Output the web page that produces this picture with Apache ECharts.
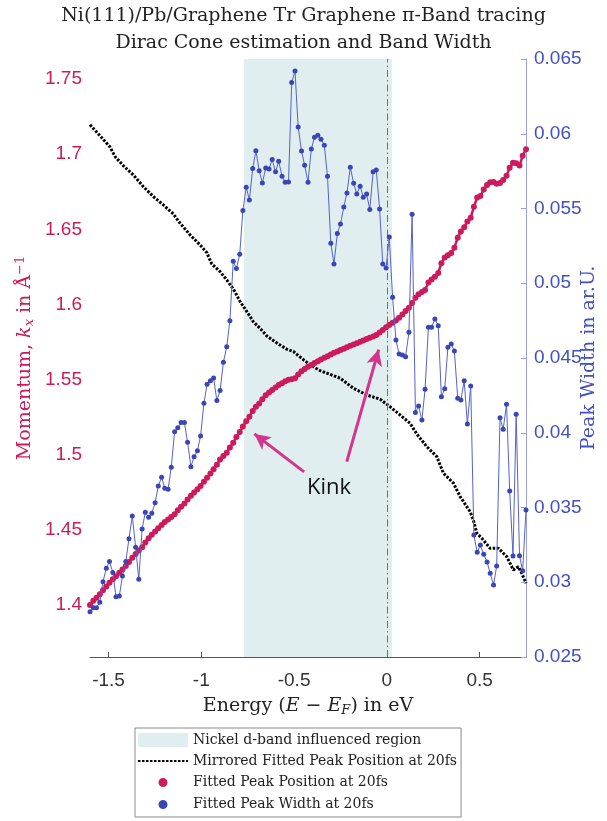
<!DOCTYPE html>
<html>
<head>
<meta charset="utf-8">
<title>Graphene π-band tracing</title>
<script src="https://cdn.jsdelivr.net/npm/echarts@6/dist/echarts.min.js"></script>
<style>
  html, body { margin: 0; padding: 0; background: #fff; }
  #chart { width: 607px; height: 821px; }
</style>
</head>
<body>
<div id="chart"></div>
<script>
// Energy grid (E - E_F, eV) shared by the fitted peak position and width
const energy = [
  -1.600, -1.582, -1.565, -1.547, -1.530, -1.512, -1.495, -1.477, -1.460, -1.442,
  -1.425, -1.407, -1.390, -1.372, -1.354, -1.337, -1.319, -1.302, -1.284, -1.267,
  -1.249, -1.232, -1.214, -1.197, -1.179, -1.162, -1.144, -1.127, -1.109, -1.091,
  -1.074, -1.056, -1.039, -1.021, -1.004, -0.986, -0.969, -0.951, -0.934, -0.916,
  -0.899, -0.881, -0.863, -0.846, -0.828, -0.811, -0.793, -0.776, -0.758, -0.741,
  -0.723, -0.706, -0.688, -0.671, -0.653, -0.635, -0.618, -0.600, -0.583, -0.565,
  -0.548, -0.530, -0.513, -0.495, -0.478, -0.460, -0.443, -0.425, -0.407, -0.390,
  -0.372, -0.355, -0.337, -0.320, -0.302, -0.285, -0.267, -0.250, -0.232, -0.215,
  -0.197, -0.179, -0.162, -0.144, -0.127, -0.109, -0.092, -0.074, -0.057, -0.039,
  -0.022, -0.004, 0.013, 0.031, 0.049, 0.066, 0.084, 0.101, 0.119, 0.136,
  0.154, 0.171, 0.189, 0.206, 0.224, 0.241, 0.259, 0.277, 0.294, 0.312,
  0.329, 0.347, 0.364, 0.382, 0.399, 0.417, 0.434, 0.452, 0.469, 0.487,
  0.504, 0.522, 0.540, 0.557, 0.575, 0.592, 0.610, 0.627, 0.645, 0.662,
  0.680, 0.697, 0.715, 0.732, 0.750
];

// Fitted peak position k_x (1/Å) at 20 fs
const peakPosition = [
  1.4000, 1.4029, 1.4049, 1.4072, 1.4098, 1.4124, 1.4148, 1.4172, 1.4192, 1.4215,
  1.4237, 1.4260, 1.4287, 1.4314, 1.4340, 1.4363, 1.4384, 1.4416, 1.4444, 1.4467,
  1.4489, 1.4511, 1.4533, 1.4552, 1.4569, 1.4586, 1.4604, 1.4631, 1.4654, 1.4676,
  1.4702, 1.4727, 1.4749, 1.4771, 1.4792, 1.4820, 1.4847, 1.4876, 1.4903, 1.4934,
  1.4968, 1.4992, 1.5014, 1.5049, 1.5080, 1.5118, 1.5151, 1.5188, 1.5223, 1.5253,
  1.5292, 1.5320, 1.5342, 1.5369, 1.5396, 1.5415, 1.5431, 1.5447, 1.5464, 1.5476,
  1.5490, 1.5499, 1.5502, 1.5510, 1.5535, 1.5556, 1.5570, 1.5585, 1.5597, 1.5610,
  1.5622, 1.5634, 1.5645, 1.5656, 1.5668, 1.5679, 1.5688, 1.5697, 1.5706, 1.5715,
  1.5725, 1.5734, 1.5743, 1.5752, 1.5761, 1.5770, 1.5779, 1.5787, 1.5797, 1.5813,
  1.5830, 1.5848, 1.5864, 1.5878, 1.5894, 1.5912, 1.5934, 1.5956, 1.5978, 1.6010,
  1.6045, 1.6068, 1.6083, 1.6097, 1.6146, 1.6166, 1.6185, 1.6210, 1.6275, 1.6313,
  1.6328, 1.6343, 1.6378, 1.6445, 1.6486, 1.6514, 1.6553, 1.6578, 1.6650, 1.6712,
  1.6722, 1.6765, 1.6795, 1.6814, 1.6816, 1.6803, 1.6808, 1.6828, 1.6857, 1.6910,
  1.6943, 1.6940, 1.6925, 1.6990, 1.7034
];

// Fitted peak width (arb. units) at 20 fs
const peakWidth = [
  0.02803, 0.02830, 0.02830, 0.02866, 0.03004, 0.03093, 0.03138, 0.03066, 0.02903, 0.02908,
  0.03042, 0.03138, 0.03291, 0.03443, 0.03234, 0.03020, 0.03356, 0.03468, 0.03434, 0.03461,
  0.03532, 0.03644, 0.03702, 0.03628, 0.03622, 0.03769, 0.04007, 0.04034, 0.04068, 0.04068,
  0.03936, 0.03773, 0.03840, 0.03880, 0.03978, 0.04197, 0.04324, 0.04348, 0.04366, 0.04215,
  0.04282, 0.04472, 0.04576, 0.04750, 0.05147, 0.05098, 0.05194, 0.05486, 0.05642, 0.05557,
  0.05767, 0.05887, 0.05753, 0.05671, 0.05771, 0.05765, 0.05827, 0.05745, 0.05816, 0.05716,
  0.05676, 0.05678, 0.06342, 0.06420, 0.06045, 0.05885, 0.05789, 0.05676, 0.05898, 0.05977,
  0.05990, 0.05963, 0.05923, 0.05716, 0.05268, 0.05129, 0.05332, 0.05397, 0.05510, 0.05604,
  0.05776, 0.05669, 0.05597, 0.05649, 0.05575, 0.05597, 0.05493, 0.05745, 0.05758, 0.05497,
  0.05129, 0.05102, 0.05310, 0.04906, 0.04621, 0.04527, 0.04520, 0.04509, 0.04672, 0.05461,
  0.04135, 0.04179, 0.04085, 0.04291, 0.04705, 0.04705, 0.04761, 0.04716, 0.04241, 0.04295,
  0.04572, 0.04594, 0.04547, 0.04231, 0.04219, 0.04348, 0.04059, 0.04313, 0.03316, 0.03200,
  0.03249, 0.03187, 0.03136, 0.03060, 0.02982, 0.03109, 0.04101, 0.04023, 0.04191, 0.03611,
  0.03176, 0.04124, 0.03178, 0.03077, 0.03483
];

// Mirrored fitted peak position (energy, k_x)
const mirroredEnergy = [
  -1.600, -1.546, -1.492, -1.465, -1.420, -1.367, -1.313, -1.259, -1.205, -1.151,
  -1.115, -1.061, -1.007, -0.971, -0.944, -0.899, -0.863, -0.827, -0.791, -0.755,
  -0.720, -0.684, -0.647, -0.612, -0.576, -0.540, -0.504, -0.468, -0.414, -0.360,
  -0.252, -0.181, -0.108, -0.037, 0.017, 0.071, 0.125, 0.161, 0.215, 0.269,
  0.305, 0.359, 0.395, 0.449, 0.466, 0.485, 0.512, 0.556, 0.601, 0.646,
  0.682, 0.709, 0.727, 0.750
];
const mirroredPosition = [
  1.7196, 1.7123, 1.7048, 1.6985, 1.6923, 1.6863, 1.6785, 1.6719, 1.6663, 1.6603,
  1.6542, 1.6464, 1.6397, 1.6346, 1.6271, 1.6219, 1.6164, 1.6102, 1.6020, 1.5953,
  1.5886, 1.5842, 1.5791, 1.5760, 1.5731, 1.5703, 1.5687, 1.5651, 1.5598, 1.5560,
  1.5510, 1.5443, 1.5398, 1.5370, 1.5320, 1.5265, 1.5210, 1.5139, 1.5054, 1.4988,
  1.4877, 1.4811, 1.4721, 1.4621, 1.4566, 1.4478, 1.4444, 1.4378, 1.4378, 1.4322,
  1.4233, 1.4255, 1.4211, 1.4145
];

// Axis ticks
const energyTicks = [-1.5, -1, -0.5, 0, 0.5];
const momentumTicks = [1.4, 1.45, 1.5, 1.55, 1.6, 1.65, 1.7, 1.75];

// Nickel d-band influenced energy window and the Fermi level
const nickelRegion = [-0.77, 0.027];
const fermiLevel = 0;

// "Kink" annotation: label anchor and two arrows [from, to] in (E, k_x)
const kinkLabel = [-0.312, 1.4779];
const kinkArrows = [
  [[-0.216, 1.4954], [-0.044, 1.5700]],
  [[-0.446, 1.4886], [-0.714, 1.5139]]
];

const SERIF = '"DejaVu Serif", "Liberation Serif", serif';
const SANS = '"Liberation Sans", Arial, sans-serif';
const CRIMSON = '#cc1a5c';
const BLUE = '#3b46b4';

const fmt = v => String(parseFloat(v.toFixed(3)));

const chart = echarts.init(document.getElementById('chart'), null, { renderer: 'canvas' });

const option = {
  animation: false,
  backgroundColor: '#ffffff',
  title: {
    text: 'Ni(111)/Pb/Graphene Tr Graphene π-Band tracing\nDirac Cone estimation and Band Width',
    left: 'center',
    top: -2,
    textStyle: { fontFamily: SERIF, fontWeight: 'normal', fontSize: 19, color: '#222', lineHeight: 27 }
  },
  grid: { left: 90, right: 81, top: 59, bottom: 164, containLabel: false, outerBoundsMode: 'none' },
  legend: {
    orient: 'vertical',
    left: 135,
    top: 728,
    height: 120,
    itemWidth: 50,
    itemHeight: 14,
    itemGap: 3,
    padding: [3, 4, 3, 2],
    borderColor: '#8a8a8a',
    borderWidth: 1,
    backgroundColor: '#fff',
    selectedMode: false,
    textStyle: { fontFamily: SERIF, fontSize: 14, lineHeight: 18, color: '#222' },
    data: [
      { name: 'Nickel d-band influenced region', icon: 'rect', itemStyle: { color: '#e1eef0' } },
      { name: 'Mirrored Fitted Peak Position at 20fs', itemStyle: { opacity: 0 } },
      { name: 'Fitted Peak Position at 20fs', icon: 'circle', itemStyle: { borderColor: '#fff', borderWidth: 5 } },
      { name: 'Fitted Peak Width at 20fs', icon: 'circle', itemStyle: { borderColor: '#fff', borderWidth: 5 } }
    ]
  },
  xAxis: {
    type: 'value',
    min: -1.6,
    max: 0.75,
    name: '{r|Energy (}{i|E}{r| − }{i|E}{sub|F}{r|) in eV}',
    nameLocation: 'middle',
    nameGap: 39,
    nameMoveOverlap: false,
    nameTextStyle: {
      fontFamily: SERIF, fontSize: 19, color: '#222',
      rich: {
        r: { fontFamily: SERIF, fontSize: 19, color: '#222' },
        i: { fontFamily: SERIF, fontSize: 19, color: '#222', fontStyle: 'italic' },
        sub: { fontFamily: SERIF, fontSize: 13, color: '#222', fontStyle: 'italic', padding: [8, 0, 0, 0] }
      }
    },
    axisLine: { show: true, lineStyle: { color: '#555', width: 1 } },
    axisTick: { show: true, inside: true, length: 5, customValues: energyTicks, lineStyle: { color: '#555' } },
    axisLabel: { customValues: energyTicks, fontFamily: SANS, fontSize: 19, color: '#333', margin: 14, formatter: v => fmt(v) },
    splitLine: { show: false }
  },
  yAxis: [
    {
      type: 'value',
      position: 'left',
      min: 1.3654,
      max: 1.7634,
      name: '{r|Momentum, }{i|k}{sub|x}{r| in Å}{sup|−1}',
      nameLocation: 'middle',
      nameGap: 53,
      nameMoveOverlap: false,
      nameTextStyle: {
        fontFamily: SERIF, fontSize: 19, color: CRIMSON,
        rich: {
          r: { fontFamily: SERIF, fontSize: 19, color: CRIMSON },
          i: { fontFamily: SERIF, fontSize: 19, color: CRIMSON, fontStyle: 'italic' },
          sub: { fontFamily: SERIF, fontSize: 13, color: CRIMSON, fontStyle: 'italic', padding: [8, 0, 0, 0] },
          sup: { fontFamily: SERIF, fontSize: 13, color: CRIMSON, padding: [0, 0, 10, 0] }
        }
      },
      axisLine: { show: true, lineStyle: { color: '#ee9dbf', width: 1 } },
      axisTick: { show: true, inside: true, length: 5, customValues: momentumTicks, lineStyle: { color: '#ee9dbf' } },
      axisLabel: { customValues: momentumTicks, fontFamily: SANS, fontSize: 19, color: CRIMSON, margin: 8, formatter: v => fmt(v) },
      splitLine: { show: false }
    },
    {
      type: 'value',
      position: 'right',
      min: 0.025,
      max: 0.065,
      interval: 0.005,
      name: 'Peak Width in ar.U.',
      nameLocation: 'middle',
      nameGap: 54,
      nameMoveOverlap: false,
      nameTextStyle: { fontFamily: SERIF, fontSize: 19, color: '#4250c0' },
      axisLine: { show: true, lineStyle: { color: '#98a0de', width: 1 } },
      axisTick: { show: true, inside: true, length: 5, lineStyle: { color: '#98a0de' } },
      axisLabel: { fontFamily: SANS, fontSize: 19, color: '#4250c0', margin: 8, formatter: v => fmt(v) },
      splitLine: { show: false }
    }
  ],
  series: [
    {
      name: 'Nickel d-band influenced region',
      type: 'line',
      data: [],
      itemStyle: { color: '#e1eef0' },
      lineStyle: { color: '#e1eef0' },
      silent: true,
      z: 1,
      markArea: {
        silent: true,
        itemStyle: { color: '#e1eef0' },
        data: [[{ xAxis: nickelRegion[0] }, { xAxis: nickelRegion[1] }]]
      },
      markLine: {
        silent: true,
        symbol: 'none',
        label: { show: false },
        lineStyle: { color: '#6f6f6f', width: 1, type: [7, 3, 1.5, 3] },
        data: [{ xAxis: fermiLevel }]
      }
    },
    {
      name: 'Mirrored Fitted Peak Position at 20fs',
      type: 'line',
      z: 3,
      symbol: 'none',
      data: mirroredEnergy.map((e, i) => [e, mirroredPosition[i]]),
      itemStyle: { color: '#000' },
      lineStyle: { color: '#000', width: 3, type: [2.5, 1.5] }
    },
    {
      name: 'Fitted Peak Position at 20fs',
      type: 'line',
      z: 4,
      symbol: 'circle',
      symbolSize: 6,
      data: energy.map((e, i) => [e, peakPosition[i]]),
      itemStyle: { color: CRIMSON },
      lineStyle: { color: CRIMSON, width: 2.5 },
      markPoint: {
        silent: true,
        symbol: 'circle',
        symbolSize: 0,
        label: { show: true, position: 'inside', formatter: 'Kink', fontFamily: '"Open Sans", Lato, sans-serif', fontSize: 22, color: '#111' },
        data: [{ coord: kinkLabel }]
      },
      markLine: {
        silent: true,
        label: { show: false },
        lineStyle: { color: '#d6338a', width: 3, type: 'solid' },
        data: kinkArrows.map(([from, to]) => [
          { coord: from, symbol: 'none' },
          { coord: to, symbol: 'arrow', symbolSize: [12, 16] }
        ])
      }
    },
    {
      name: 'Fitted Peak Width at 20fs',
      type: 'line',
      yAxisIndex: 1,
      z: 5,
      symbol: 'circle',
      symbolSize: 5,
      data: energy.map((e, i) => [e, peakWidth[i]]),
      itemStyle: { color: BLUE },
      lineStyle: { color: '#5562c8', width: 1 }
    }
  ]
};

chart.setOption(option);
</script>
</body>
</html>
